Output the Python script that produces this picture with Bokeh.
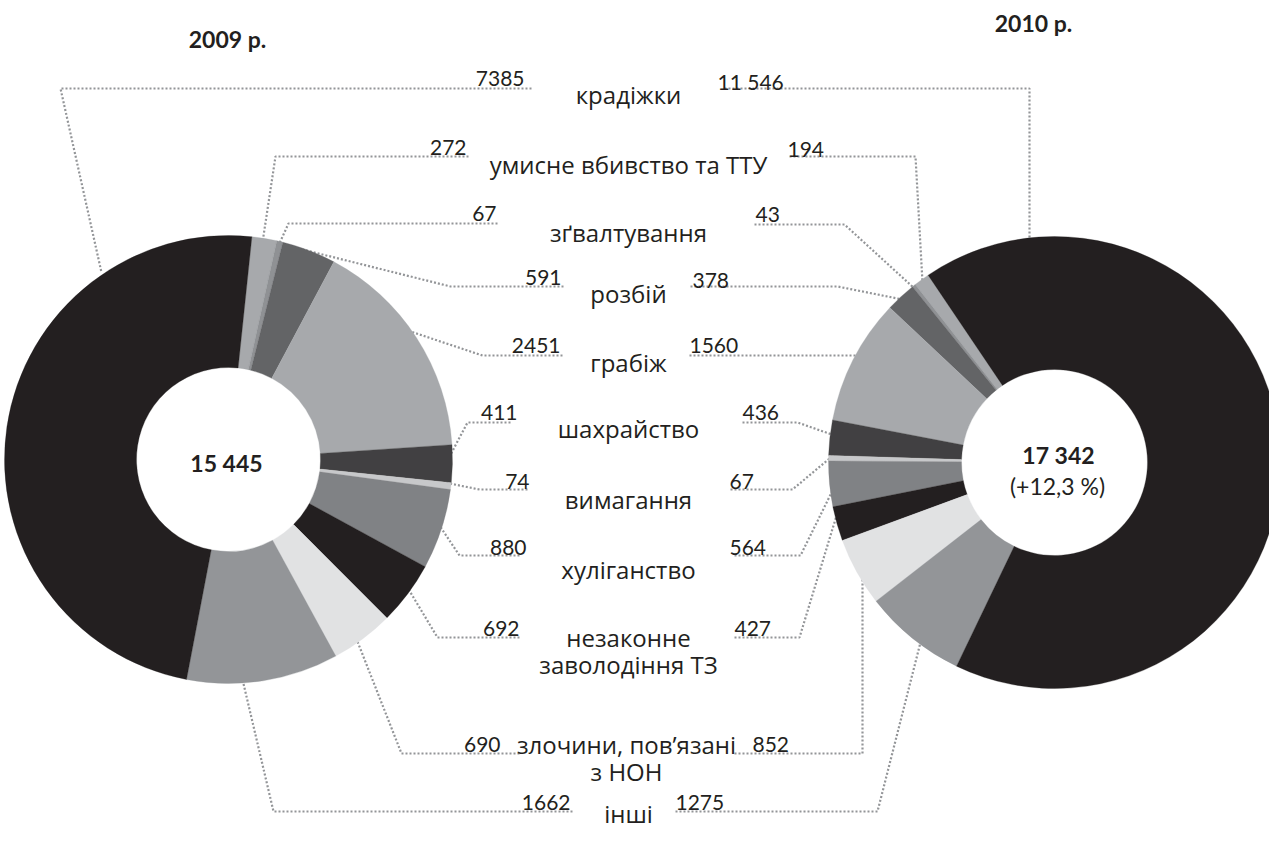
import math
from bokeh.plotting import figure
from bokeh.models import Range1d, ColumnDataSource
from bokeh.core.properties import value
from bokeh.embed import file_html
from bokeh.resources import INLINE

# ---------------- data ----------------
categories = ["крадіжки", "умисне вбивство та ТТУ", "зґвалтування", "розбій", "грабіж",
              "шахрайство", "вимагання", "хуліганство", "незаконне\nзаволодіння ТЗ",
              "злочини, пов’язані\nз НОН", "інші"]
values_2009 = [7385, 272, 67, 591, 2451, 411, 74, 880, 692, 690, 1662]
values_2010 = [11546, 194, 43, 378, 1560, 436, 67, 564, 427, 852, 1275]
total_2009 = 15445
total_2010 = 17342
years = ["2009 р.", "2010 р."]
colors = ["#231f20", "#a7a9ac", "#8f9194", "#636466", "#a7a9ac", "#414042",
          "#c7c8ca", "#808285", "#231f20", "#e1e2e3", "#939598"]

# ---------------- layout (screen px; data y = 848 - screen y) ----------------
W, H = 1269, 832
def Y(sy):
    return 848 - sy

L_CX, L_CY, L_R, L_RI, L_START = 236, 467, 224, 92, 6.0     # clockwise from top
R_CX, R_CY, R_R, R_RI, R_START = 1062, 470, 226, 93, 34.0   # counter-clockwise from top

LABEL_CX = 636
label_base = [102, 172, 240, 301, 370, 436, 507, 577, 645, 752, 821]
line_gap = 27
left_val_pos = [(532, 86), (474, 155), (504, 221), (569, 285), (568, 353), (525, 420),
                (537, 489), (534, 555), (527, 636), (508, 752), (578, 810)]
right_val_pos = [(725, 89), (795, 157), (763, 222), (700, 288), (697, 353), (750, 420),
                 (737, 489), (737, 555), (742, 636), (760, 752), (683, 810)]

left_leaders = [
    [(539, 96), (68, 96), (109, 280)],
    [(476, 164), (283, 164), (270, 250)],
    [(505, 231), (296, 231), (286, 253)],
    [(571, 294), (458, 294), (310, 257)],
    [(570, 363), (490, 363), (412, 337)],
    [(518, 430), (475, 430), (455, 468)],
    [(535, 497), (487, 497), (452, 490)],
    [(527, 563), (467, 563), (445, 530)],
    [(527, 645), (445, 645), (415, 595)],
    [(527, 761), (409, 761), (363, 644)],
    [(580, 819), (281, 819), (250, 687)],
]
right_leaders = [
    [(732, 96), (1037, 96), (1037, 248)],
    [(797, 164), (923, 164), (930, 290)],
    [(762, 232), (852, 232), (922, 296)],
    [(698, 294), (845, 294), (910, 307)],
    [(697, 363), (872, 363)],
    [(750, 430), (805, 430), (845, 444)],
    [(738, 497), (800, 497), (843, 461)],
    [(742, 563), (808, 563), (844, 490)],
    [(742, 645), (807, 645), (845, 520)],
    [(742, 761), (870, 761), (870, 583)],
    [(683, 819), (885, 819), (930, 642)],
]

LABEL_FONT = value("Open Sans")
NUM_FONT = value("Lato")
TEXT_COLOR = "#231f20"
LEADER_COLOR = "#939598"

p = figure(width=W, height=H, x_range=Range1d(8, 8 + W), y_range=Range1d(8, 8 + H),
           output_backend="svg", toolbar_location=None,
           x_axis_location=None, y_axis_location=None, min_border=0)
p.grid.visible = False
p.outline_line_color = None
p.background_fill_color = "white"
p.border_fill_color = "white"

# leader lines (under the donuts)
xs, ys = [], []
for poly in left_leaders + right_leaders:
    xs.append([pt[0] for pt in poly])
    ys.append([Y(pt[1]) for pt in poly])
p.multi_line(xs, ys, line_color=LEADER_COLOR, line_width=2.2, line_dash="2 2")

# donuts
def wedges(vals, clockwise, start):
    order = list(range(1, len(vals))) + [0]
    tot = sum(vals)
    a = start
    s_ang, e_ang, cols = [], [], []
    for i in order:
        span = vals[i] / tot * 360.0
        a0, a1 = a, a + span
        if clockwise:
            s_ang.append(math.radians(90 - a1)); e_ang.append(math.radians(90 - a0))
        else:
            s_ang.append(math.radians(90 + a0)); e_ang.append(math.radians(90 + a1))
        cols.append(colors[i])
        a = a1
    return s_ang, e_ang, cols

for vals, cw, start, cx, cy, r, ri in [
        (values_2009, True, L_START, L_CX, L_CY, L_R, L_RI),
        (values_2010, False, R_START, R_CX, R_CY, R_R, R_RI)]:
    s, e, c = wedges(vals, cw, start)
    src = ColumnDataSource(dict(start=s, end=e, color=c))
    p.annular_wedge(x=cx, y=Y(cy), inner_radius=ri, outer_radius=r,
                    start_angle="start", end_angle="end", fill_color="color",
                    line_color="color", line_width=0.3, source=src)

# category labels
lx, ly, lt = [], [], []
for i, cat in enumerate(categories):
    for k, part in enumerate(cat.split("\n")):
        lx.append(LABEL_CX - (2 if i == 9 else 0)); ly.append(Y(label_base[i] + k * line_gap)); lt.append(part)
p.text(lx, ly, text=lt, text_align="center", text_baseline="alphabetic",
       text_font=LABEL_FONT, text_font_size=value("24px"), text_color=TEXT_COLOR)

def fmt(v):
    return f"{v:,}".replace(",", " ") if v >= 10000 else str(v)

p.text([pt[0] for pt in left_val_pos], [Y(pt[1]) for pt in left_val_pos],
       text=[fmt(v) for v in values_2009], text_align="right", text_baseline="alphabetic",
       text_font=NUM_FONT, text_font_size=value("21px"), text_color=TEXT_COLOR)
p.text([pt[0] for pt in right_val_pos], [Y(pt[1]) for pt in right_val_pos],
       text=[fmt(v) for v in values_2010], text_align="left", text_baseline="alphabetic",
       text_font=NUM_FONT, text_font_size=value("21px"), text_color=TEXT_COLOR)

# titles
p.text([235, 1041], [Y(46), Y(30)], text=years, text_align="center", text_baseline="alphabetic",
       text_font=NUM_FONT, text_font_size=value("23px"), text_font_style="bold", text_color=TEXT_COLOR)

# totals in the centre
p.text([L_CX - 2, R_CX + 4], [Y(470), Y(462)],
       text=[f"{total_2009:,}".replace(",", " "), f"{total_2010:,}".replace(",", " ")],
       text_align="center", text_baseline="alphabetic", text_font=NUM_FONT,
       text_font_size=value("23px"), text_font_style="bold", text_color=TEXT_COLOR)
change = (total_2010 - total_2009) / total_2009 * 100
p.text([R_CX + 3], [Y(493)], text=[f"(+{change:.1f} %)".replace(".", ",")],
       text_align="center", text_baseline="alphabetic", text_font=NUM_FONT,
       text_font_size=value("23px"), text_color=TEXT_COLOR)

open("out.html", "w").write(file_html(p, INLINE))
